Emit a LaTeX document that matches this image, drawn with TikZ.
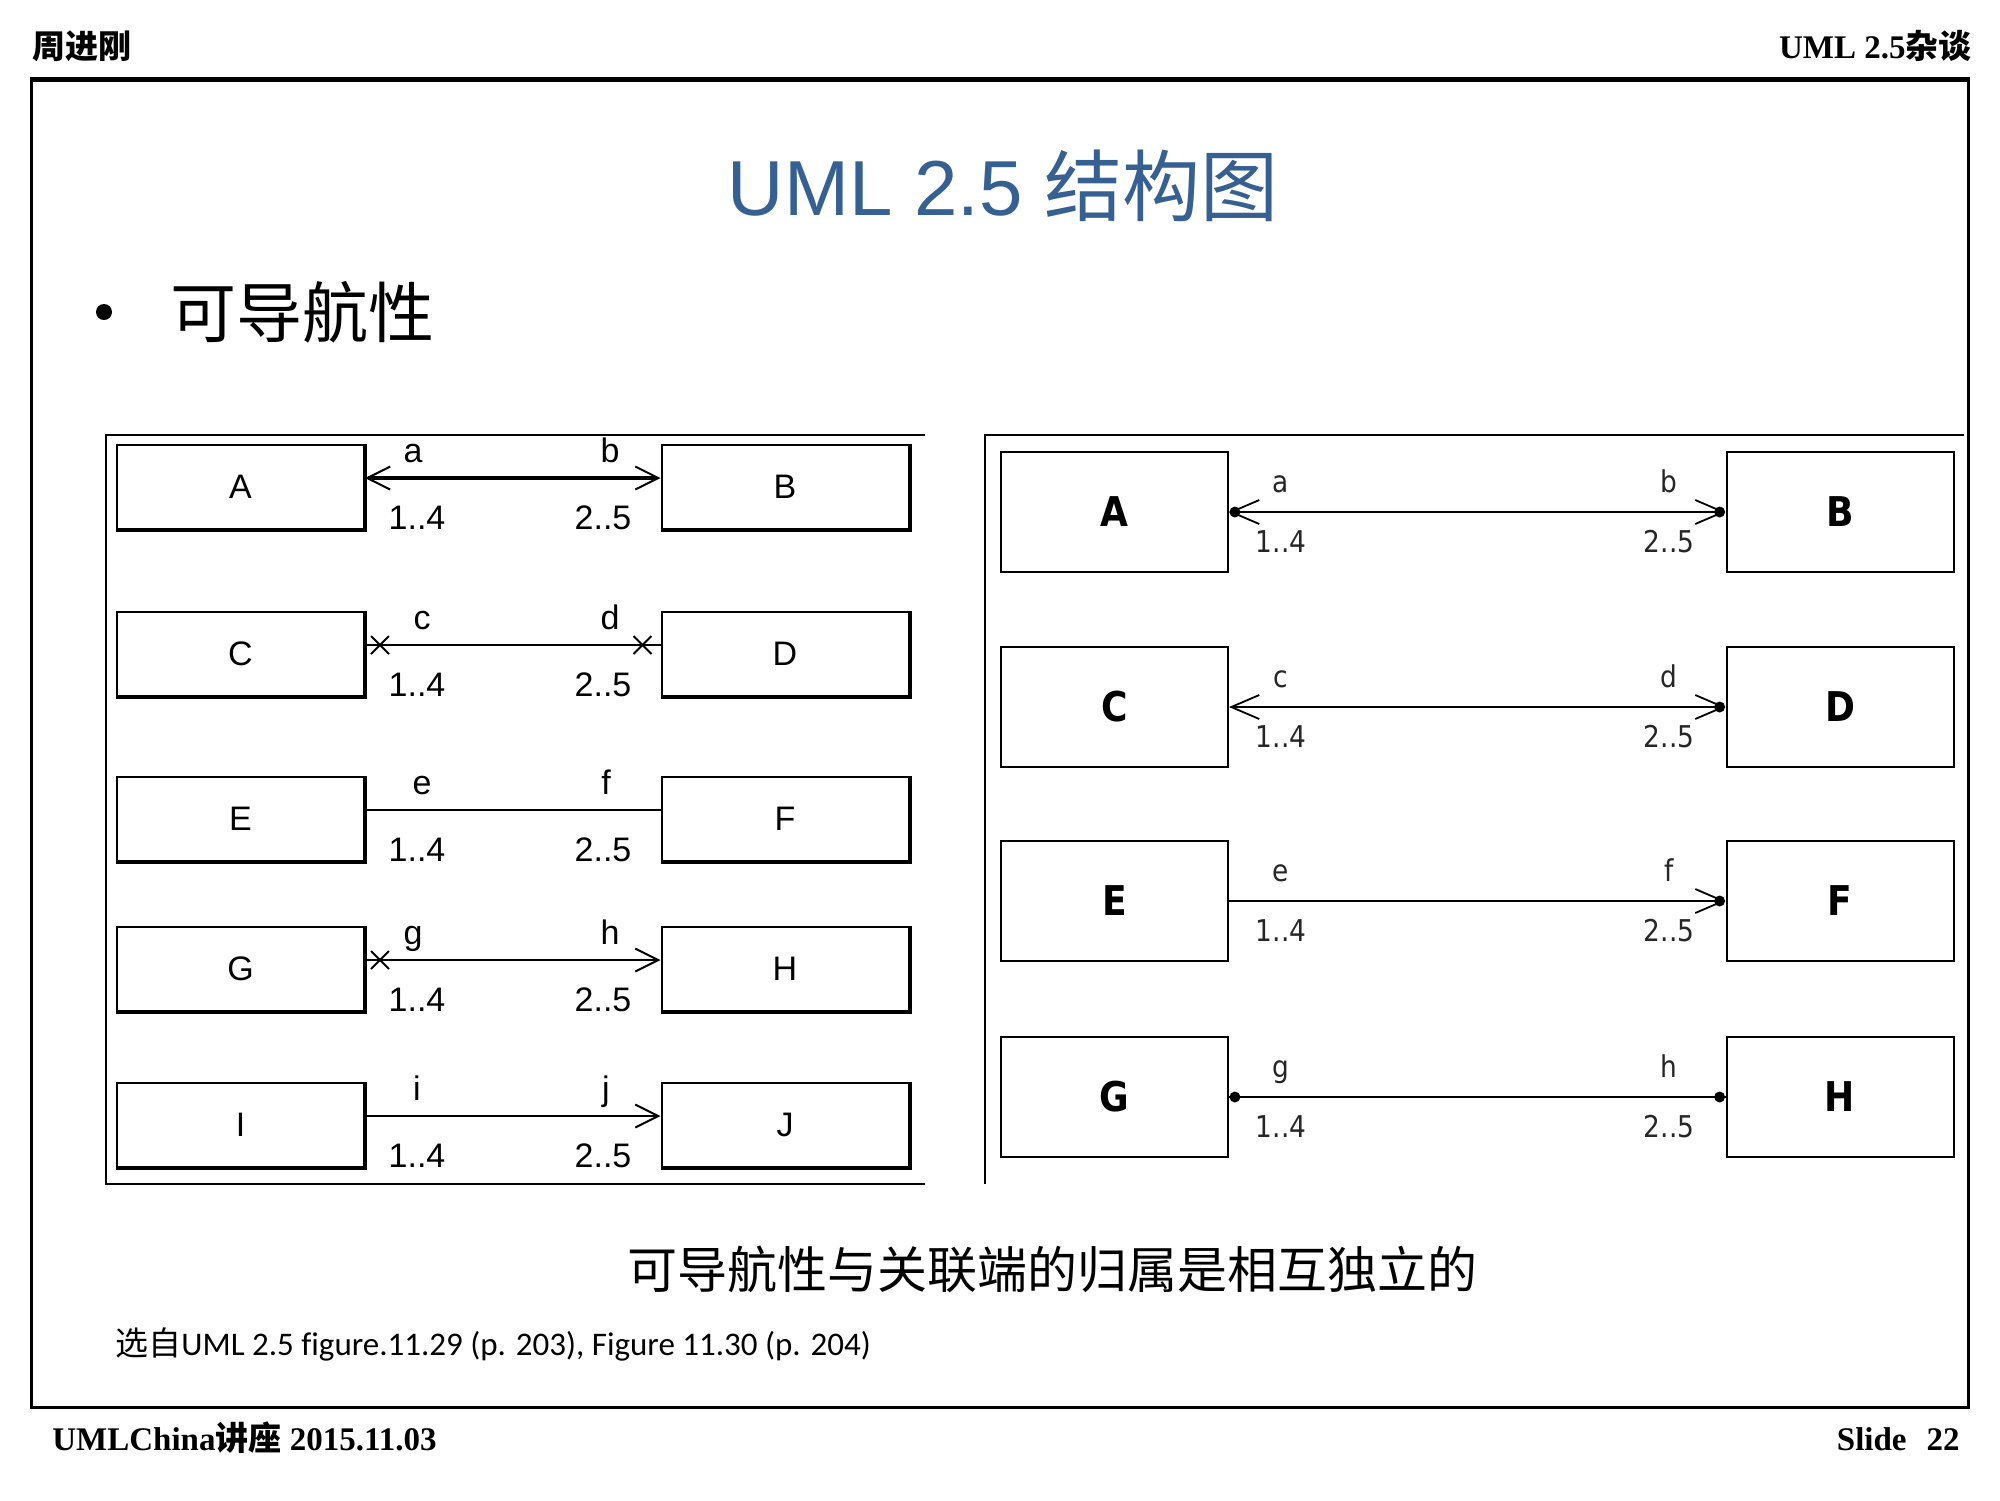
\documentclass[tikz,border=0pt]{standalone}
\usepackage{fontspec}
\usetikzlibrary{arrows.meta,calc,shapes.misc}
\newfontfamily\arialf{Liberation Sans}
\newfontfamily\timesf{Liberation Serif}
\newfontfamily\cjkf{Noto Sans CJK SC}
\newfontfamily\carlf{Carlito}[Ligatures=NoCommon]
\newfontfamily\dejaf{DejaVu Sans}[FakeStretch=0.88]
\definecolor{titleblue}{RGB}{55,96,146}
\newcommand{\fsz}[1]{\fontsize{#1}{#1}\selectfont}
\tikzset{
  lbox/.style={draw, line width=1pt, minimum width=123.5pt, minimum height=42pt, inner sep=0pt, font=\arialf\fsz{17pt}},
  lbl/.style={font=\arialf\fsz{17pt}, inner sep=0pt, anchor=base},
  rbox/.style={draw, line width=1pt, minimum width=113.5pt, minimum height=60pt, inner sep=0pt, font=\dejaf\bfseries\fsz{20.5pt}},
  rlbl/.style={font=\dejaf\fsz{15pt}, text=black!85, inner sep=0pt, anchor=base},
  xmark/.style={cross out, draw, line width=1pt, minimum size=8pt, inner sep=0pt},
  dot/.style={circle, fill=black, inner sep=0pt, minimum size=5.5pt},
  ltip/.tip={Straight Barb[length=11.5pt,width=11.5pt,line width=1pt]},
  rtip/.tip={Straight Barb[length=14pt,width=12pt,line width=0.9pt]},
  lconn/.style={line width=1.25pt},
  rconn/.style={line width=1.2pt},
  frame/.style={line width=1pt},
}
\begin{document}
\begin{tikzpicture}[x=0.5pt,y=-0.5pt]
\useasboundingbox[fill=white] (0,0) rectangle (2000,1500);

% header / footer
\node[anchor=base west, inner sep=0pt, font=\cjkf\bfseries\fsz{16.5pt}] (hdl) at (32,58) {周进刚};
\node[anchor=base east, inner sep=0pt, font=\fsz{16.5pt}] (hdr) at (1972,58) {{\timesf\bfseries UML 2.5}{\cjkf\bfseries 杂谈}};
\node[anchor=base west, inner sep=0pt, font=\fsz{16.5pt}] (ftl) at (52,1450) {{\timesf\bfseries UMLChina}{\cjkf\bfseries 讲座}{\timesf\bfseries\ 2015.11.03}};
\node[anchor=base east, inner sep=0pt, font=\timesf\bfseries\fsz{16.5pt}] (ftr) at (1960,1450) {Slide\hspace{10pt}22};

% outer frame
\draw[line width=1.5pt] (31,78) rectangle (1968,1407);
\draw[line width=2.5pt] (31,79) -- (1968,79);

% title
\node[anchor=base, inner sep=0pt, text=titleblue, font=\fsz{39pt}] (title) at (1003,215) {{\arialf UML 2.5 }{\cjkf 结构图}};

% bullet
\fill (104,312) circle[radius=8];
\node[anchor=base west, inner sep=0pt, font=\cjkf\fsz{33pt}] (bul) at (170,337) {可导航性};

% left diagram frame
\draw[frame] (925,435) -- (106,435) -- (106,1184) -- (925,1184);

% left boxes
\node[lbox] (lA) at (240.5,487) {A};
\node[lbox] (lB) at (785,487) {B};
\node[lbox] (lC) at (240.5,654) {C};
\node[lbox] (lD) at (785,654) {D};
\node[lbox] (lE) at (240.5,819) {E};
\node[lbox] (lF) at (785,819) {F};
\node[lbox] (lG) at (240.5,969) {G};
\node[lbox] (lH) at (785,969) {H};
\node[lbox] (lI) at (240.5,1125) {I};
\node[lbox] (lJ) at (785,1125) {J};
\foreach \n in {lA,lB,lC,lD,lE,lF,lG,lH,lI,lJ}
  \draw[line width=2pt] (\n.north east) -- (\n.south east) -- (\n.south west);

% left connectors
\draw[lconn, line width=2.25pt, ltip-ltip] ([yshift=4.5pt]lA.east) -- ([yshift=4.5pt]lB.west);
\draw[lconn] ([yshift=4.5pt]lC.east) -- ([yshift=4.5pt]lD.west);
\node[xmark] (xC) at ($([yshift=4.5pt]lC.east)+(15,0)$) {};
\node[xmark] (xD) at ($([yshift=4.5pt]lD.west)+(-18,0)$) {};
\draw[lconn] ([yshift=4.5pt]lE.east) -- ([yshift=4.5pt]lF.west);
\draw[lconn, -ltip] ([yshift=4.5pt]lG.east) -- ([yshift=4.5pt]lH.west);
\node[xmark] (xG) at ($([yshift=4.5pt]lG.east)+(15,0)$) {};
\draw[lconn, -ltip] ([yshift=4.5pt]lI.east) -- ([yshift=4.5pt]lJ.west);

% left labels
\node[lbl] (la) at (413,462) {a};
\node[lbl] (lb) at (610,462) {b};
\node[lbl] (lm1) at (417,529) {1..4};
\node[lbl] (lm2) at (603,529) {2..5};
\node[lbl] (lc) at (422,629) {c};
\node[lbl] (ld) at (610,629) {d};
\node[lbl] (lm3) at (417,696) {1..4};
\node[lbl] (lm4) at (603,696) {2..5};
\node[lbl] (le) at (422,794) {e};
\node[lbl] (lf) at (606,794) {f};
\node[lbl] (lm5) at (417,861) {1..4};
\node[lbl] (lm6) at (603,861) {2..5};
\node[lbl] (lg) at (413,944) {g};
\node[lbl] (lh) at (610,944) {h};
\node[lbl] (lm7) at (417,1011) {1..4};
\node[lbl] (lm8) at (603,1011) {2..5};
\node[lbl] (li) at (417,1100) {i};
\node[lbl] (lj) at (606,1100) {j};
\node[lbl] (lm9) at (417,1167) {1..4};
\node[lbl] (lm10) at (603,1167) {2..5};

% right diagram frame
\draw[line width=1.25pt] (985,1184) -- (985,435) -- (1964,435);

% right boxes
\node[rbox] (rA) at (1114.5,512) {A};
\node[rbox] (rB) at (1840,512) {B};
\node[rbox] (rC) at (1114.5,707) {C};
\node[rbox] (rD) at (1840,707) {D};
\node[rbox] (rE) at (1114.5,901) {E};
\node[rbox] (rF) at (1840,901) {F};
\node[rbox] (rG) at (1114.5,1097) {G};
\node[rbox] (rH) at (1840,1097) {H};

% right connectors
\draw[rconn, rtip-rtip] (rA.east) -- (rB.west);
\node[dot, anchor=west] (dA) at (rA.east) {};
\node[dot, anchor=east] (dB) at (rB.west) {};
\draw[rconn, rtip-rtip] (rC.east) -- (rD.west);
\node[dot, anchor=east] (dD) at (rD.west) {};
\draw[rconn, -rtip] (rE.east) -- (rF.west);
\node[dot, anchor=east] (dF) at (rF.west) {};
\draw[rconn] (rG.east) -- (rH.west);
\node[dot, anchor=west] (dG) at (rG.east) {};
\node[dot, anchor=east] (dH) at (rH.west) {};

% right labels
\node[rlbl] (ra) at (1281,492) {a};
\node[rlbl] (rb) at (1669,492) {b};
\node[rlbl] (rm1) at (1281,552) {1..4};
\node[rlbl] (rm2) at (1669,552) {2..5};
\node[rlbl] (rc) at (1281,687) {c};
\node[rlbl] (rd) at (1669,687) {d};
\node[rlbl] (rm3) at (1281,747) {1..4};
\node[rlbl] (rm4) at (1669,747) {2..5};
\node[rlbl] (re) at (1281,881) {e};
\node[rlbl] (rf) at (1669,881) {f};
\node[rlbl] (rm5) at (1281,941) {1..4};
\node[rlbl] (rm6) at (1669,941) {2..5};
\node[rlbl] (rg) at (1281,1077) {g};
\node[rlbl] (rh) at (1669,1077) {h};
\node[rlbl] (rm7) at (1281,1137) {1..4};
\node[rlbl] (rm8) at (1669,1137) {2..5};

% caption
\node[anchor=base, inner sep=0pt, font=\cjkf\fsz{25pt}] (cap) at (1052,1288) {可导航性与关联端的归属是相互独立的};
\node[anchor=base west, inner sep=0pt, font=\fsz{16.5pt}] (src) at (115,1355) {{\cjkf 选自}{\carlf UML 2.5 figure.11.29 (p. 203), Figure 11.30 (p. 204)}};
\end{tikzpicture}
\end{document}
